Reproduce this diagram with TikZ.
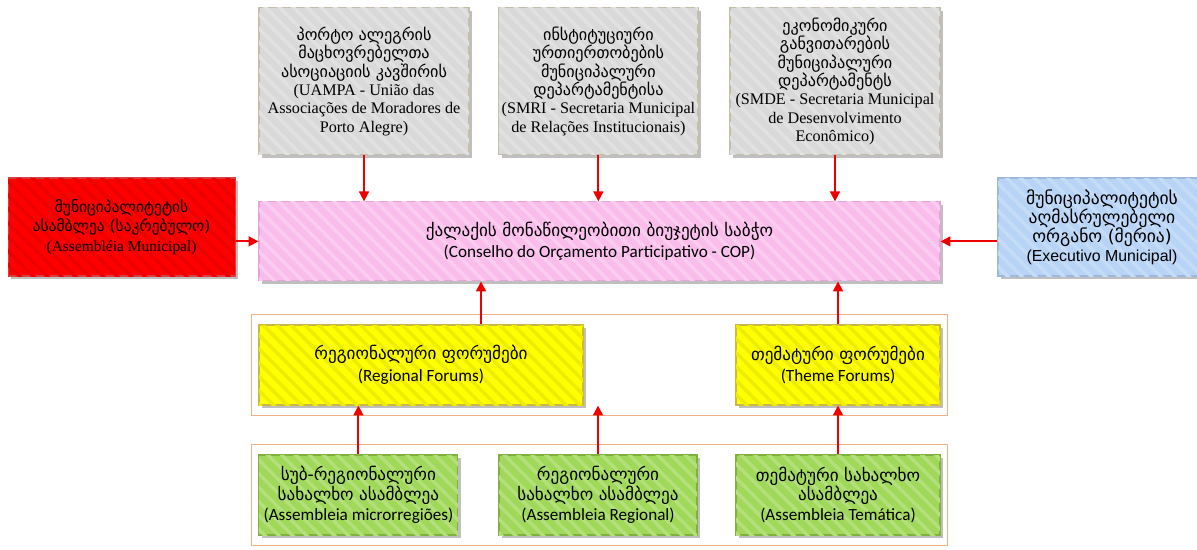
\documentclass[tikz,border=0pt]{standalone}
\usepackage{fontspec}
\setmainfont{Liberation Serif}
\newfontfamily\geo{DejaVu Sans}
\newfontfamily\calfont{Carlito}
\newfontfamily\arialfont{Liberation Sans}
\usetikzlibrary{arrows.meta,shadows,patterns.meta,fit}

\definecolor{grayfill}{HTML}{D9D9D9}
\definecolor{grayline}{HTML}{C4BDA8}
\definecolor{redfill}{HTML}{FF0000}
\definecolor{redline}{HTML}{D94040}
\definecolor{pinkfill}{HTML}{F9BCEB}
\definecolor{pinkline}{HTML}{E6A3D8}
\definecolor{bluefill}{HTML}{B7D3F5}
\definecolor{blueline}{HTML}{9DB8DC}
\definecolor{yellowfill}{HTML}{FFFF00}
\definecolor{yellowline}{HTML}{C9B944}
\definecolor{greenfill}{HTML}{A0D85A}
\definecolor{greenline}{HTML}{7FB040}
\definecolor{frameline}{HTML}{F4B183}
\definecolor{arrowred}{HTML}{EE0000}

\tikzset{
  box/.style={draw, line width=0.8pt, align=center, inner sep=2pt,
    drop shadow={shadow xshift=2pt, shadow yshift=-2pt, fill=black!25, opacity=1},
    postaction={pattern={Lines[angle=-45,distance=7pt,line width=2.5pt]},
      pattern color=#1}},
  graybox/.style={box=grayfill!80!white, fill=grayfill, draw=grayline,
    minimum height=3.675cm, font=\fontsize{11.5}{13}\selectfont},
  redbox/.style={box=redfill!93!black, fill=redfill, draw=redline, minimum width=5.675cm,
    minimum height=2.45cm, font=\fontsize{11}{14}\selectfont},
  bluebox/.style={box=bluefill!80!white, fill=bluefill, draw=blueline, minimum width=5.2cm,
    minimum height=2.45cm, font=\fontsize{11.3}{13.5}\selectfont\arialfont},
  pinkbox/.style={box=pinkfill!75!white, fill=pinkfill, draw=pinkline, minimum width=17.025cm,
    minimum height=1.975cm, font=\fontsize{12.2}{15}\selectfont\calfont},
  yellowbox/.style={box=yellowfill!93!black, fill=yellowfill, draw=yellowline, minimum height=2cm,
    font=\fontsize{12.2}{15.6}\selectfont\calfont},
  greenbox/.style={box=greenfill!80!white, fill=greenfill, draw=greenline, minimum height=2cm,
    font=\fontsize{12.2}{14.2}\selectfont\calfont},
  frame/.style={draw=frameline, line width=1pt, inner xsep=0.17cm, inner ysep=0.25cm},
  arr/.style={draw=arrowred, line width=1.3pt, -{Triangle[width=7pt,length=7pt]}}
}

\begin{document}
\begin{tikzpicture}
    \useasboundingbox (0,0) rectangle (29.925,13.725);
    % top row
    \node[graybox, minimum width=5.25cm] (uampa) at (9.1,11.69)
        {{\geo პორტო ალეგრის}\\{\geo მაცხოვრებელთა}\\{\geo ასოციაციის კავშირის}\\(UAMPA - União das\\Associações de Moradores de\\Porto Alegre)};
    \node[graybox, minimum width=4.925cm] (smri) at (14.96,11.69)
        {{\geo ინსტიტუციური}\\{\geo ურთიერთობების}\\{\geo მუნიციპალური}\\{\geo დეპარტამენტისა}\\(SMRI - Secretaria Municipal\\de Relações Institucionais)};
    \node[graybox, minimum width=5.25cm] (smde) at (20.875,11.69)
        {{\geo ეკონომიკური}\\{\geo განვითარების}\\{\geo მუნიციპალური}\\{\geo დეპარტამენტს}\\(SMDE - Secretaria Municipal\\de Desenvolvimento\\Econômico)};
    % middle row
    \node[redbox] (camara) at (3.04,8.05)
        {{\geo მუნიციპალიტეტის}\\{\geo ასამბლეა (საკრებულო)}\\(Assembléia Municipal)};
    \node[pinkbox] (cop) at (14.9875,7.69)
        {{\geo ქალაქის მონაწილეობითი ბიუჯეტის საბჭო}\\(Conselho do Orçamento Participativo - COP)};
    \node[bluebox] (exec) at (27.55,8.05)
        {{\geo\fontsize{12.5}{13.5}\selectfont მუნიციპალიტეტის}\\{\geo\fontsize{12.5}{13.5}\selectfont აღმასრულებელი}\\{\geo\fontsize{12.5}{13.5}\selectfont ორგანო (მერია)}\\(Executivo Municipal)};
    % forums
    \node[yellowbox, minimum width=8.1cm] (yreg) at (10.525,4.6)
        {{\geo რეგიონალური ფორუმები}\\(Regional Forums)};
    \node[yellowbox, minimum width=5.1cm] (ythm) at (20.95,4.6)
        {{\geo თემატური ფორუმები}\\(Theme Forums)};
    \node[frame, fit=(yreg)(ythm)] (forums) {};
    % assemblies
    \node[greenbox, minimum width=4.975cm] (gsub) at (8.96,1.35)
        {{\geo სუბ-რეგიონალური}\\{\geo სახალხო ასამბლეა}\\(Assembleia microrregiões)};
    \node[greenbox, minimum width=4.95cm] (greg) at (14.95,1.35)
        {{\geo რეგიონალური}\\{\geo სახალხო ასამბლეა}\\(Assembleia Regional)};
    \node[greenbox, minimum width=5.1cm] (gthm) at (20.95,1.35)
        {{\geo თემატური სახალხო}\\{\geo ასამბლეა}\\(Assembleia Temática)};
    \node[frame, fit=(gsub)(gthm)] (assemblies) {};

    \coordinate (yup) at ([xshift=1.5cm]yreg.north);

    \draw[arr] (uampa.south) -- (uampa.south |- cop.north);
    \draw[arr] (smri.south) -- (smri.south |- cop.north);
    \draw[arr] (smde.south) -- (smde.south |- cop.north);
    \draw[arr] (camara.east |- cop) -- (cop.west);
    \draw[arr] (exec.west |- cop) -- (cop.east);
    \draw[arr] (yup) -- (yup |- cop.south);
    \draw[arr] (ythm.north) -- (ythm.north |- cop.south);
    \draw[arr] (gsub.north) -- (gsub.north |- yreg.south);
    \draw[arr] (greg.north) -- (greg.north |- yreg.south);
    \draw[arr] (gthm.north) -- (gthm.north |- ythm.south);
\end{tikzpicture}
\end{document}
